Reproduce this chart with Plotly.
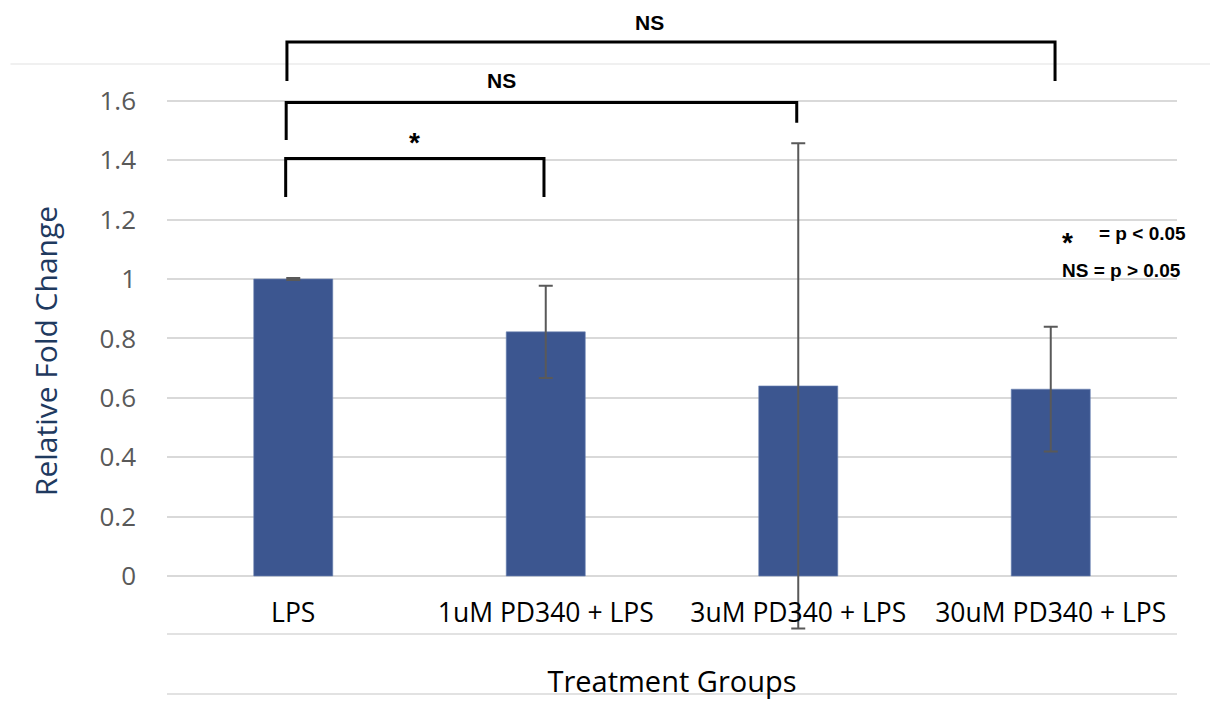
import plotly.graph_objects as go

# ---- data ----
categories = ["LPS", "1uM PD340 + LPS", "3uM PD340 + LPS", "30uM PD340 + LPS"]
fold_change = [1.0, 0.822, 0.64, 0.629]
error_vals = [0.003, 0.155, 0.817, 0.21]
y_ticks = [0, 0.2, 0.4, 0.6, 0.8, 1.0, 1.2, 1.4, 1.6]
y_tick_text = ["0", "0.2", "0.4", "0.6", "0.8", "1", "1.2", "1.4", "1.6"]

# significance brackets: (left group, right group, label)
brackets = [(0, 1, "*"), (0, 2, "NS"), (0, 3, "NS")]

x_pos = list(range(len(categories)))

fig = go.Figure()
fig.add_trace(go.Bar(
    x=x_pos, y=fold_change, width=0.313,
    marker=dict(color="#3C5690", line=dict(color="#6C84B4", width=0.6)),
    error_y=dict(type="data", array=error_vals, visible=True,
                 color="#595959", thickness=2, width=7),
    showlegend=False,
))

# bracket geometry (data coords)
br_geom = {
    (0, 1): dict(top=1.406, lb=1.276, rb=1.276, lx=-0.03, rx=0.993, tx=0.482, ty=1.458, size=28),
    (0, 2): dict(top=1.594, lb=1.468, rb=1.526, lx=-0.028, rx=1.994, tx=0.823, ty=1.667, size=21),
    (0, 3): dict(top=1.798, lb=1.667, rb=1.667, lx=-0.025, rx=3.017, tx=1.41, ty=1.865, size=21),
}
shapes = []
annotations = []
for a, b, lab in brackets:
    g = br_geom[(a, b)]
    path = (f"M {g['lx']},{g['lb']} L {g['lx']},{g['top']} "
            f"L {g['rx']},{g['top']} L {g['rx']},{g['rb']}")
    shapes.append(dict(type="path", path=path, xref="x", yref="y",
                       line=dict(color="black", width=3)))
    annotations.append(dict(x=g["tx"], y=g["ty"], xref="x", yref="y", text=f"<b>{lab}</b>",
                            showarrow=False, font=dict(family="Liberation Sans", size=g["size"], color="black")))

# decorative light lines
shapes.append(dict(type="line", xref="paper", yref="y", x0=-0.155, x1=1.04, y0=1.724, y1=1.724,
                   line=dict(color="#EBEBEB", width=1.5), layer="below"))
for yy in [-0.195, -0.397]:
    shapes.append(dict(type="line", xref="paper", yref="y", x0=0, x1=1, y0=yy, y1=yy,
                       line=dict(color="#D9D9D9", width=1.5), layer="below"))

# key
annotations.append(dict(x=3.068, y=1.122, xref="x", yref="y", text="<b>*</b>", showarrow=False,
                        font=dict(family="Liberation Sans", size=28, color="black")))
annotations.append(dict(x=3.183, y=1.152, xref="x", yref="y", text="<b>= p < 0.05</b>", showarrow=False,
                        xanchor="left", font=dict(family="Liberation Sans", size=19, color="black")))
annotations.append(dict(x=3.036, y=1.030, xref="x", yref="y", text="<b>NS = p > 0.05</b>", showarrow=False,
                        xanchor="left", font=dict(family="Liberation Sans", size=19, color="black")))

fig.update_layout(
    width=1210, height=702,
    margin=dict(l=167, r=33, t=0, b=0),
    plot_bgcolor="white", paper_bgcolor="white",
    shapes=shapes, annotations=annotations,
    xaxis=dict(
        range=[-0.5, 3.5], tickmode="array", tickvals=x_pos, ticktext=categories,
        showgrid=False, zeroline=False, showline=False, ticks="",
        anchor="free", position=1 - 576 / 702,
        ticklabelstandoff=18,
        tickfont=dict(family="Open Sans", size=26.5, color="black"),
        title=dict(text="Treatment Groups", standoff=43,
                   font=dict(family="Open Sans", size=29, color="black")),
    ),
    yaxis=dict(
        range=[-0.4242, 1.9394], tickmode="array", tickvals=y_ticks, ticktext=y_tick_text,
        showgrid=True, gridcolor="#D9D9D9", gridwidth=1.5, zeroline=False, showline=False,
        ticks="", ticklabelstandoff=30,
        tickfont=dict(family="Open Sans", size=26, color="#595959"),
        title=dict(text="Relative Fold Change", standoff=32,
                   font=dict(family="Open Sans", size=30, color="#1F3A5F")),
    ),
)

fig.write_html("out.html")
